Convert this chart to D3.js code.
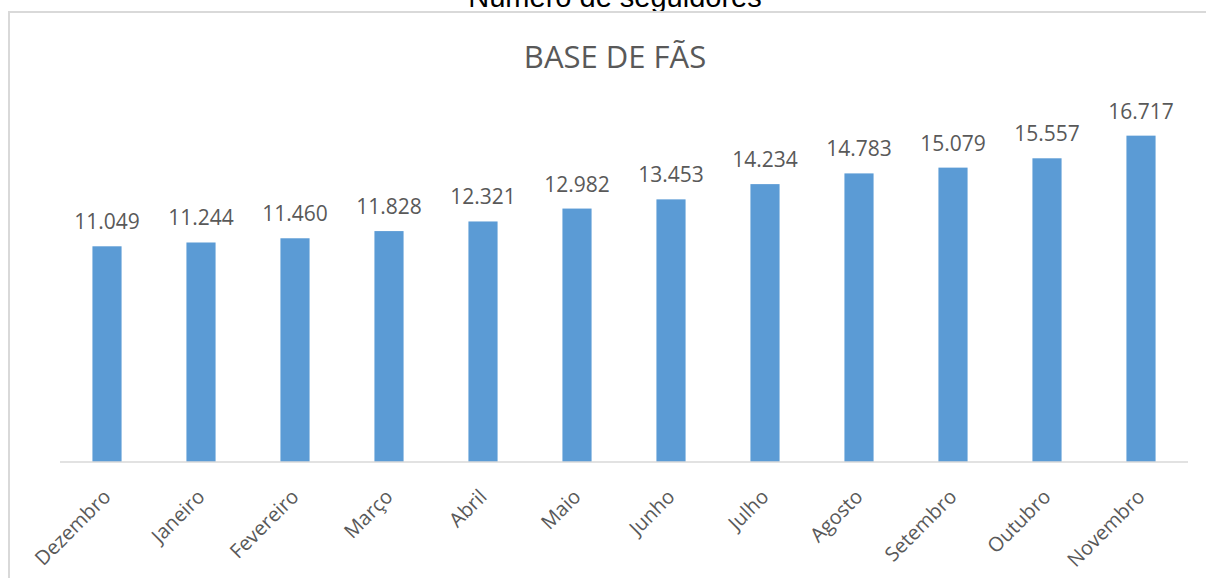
<!DOCTYPE html>
<html>
<head>
<meta charset="utf-8">
<script src="https://cdn.jsdelivr.net/npm/d3@7"></script>
<style>
  html, body { margin: 0; padding: 0; background: #ffffff; }
  svg { display: block; }
</style>
</head>
<body>
<svg id="chart" width="1206" height="578"></svg>
<script>
// Monthly follower counts (fan base)
const months = ["Dezembro", "Janeiro", "Fevereiro", "Março", "Abril", "Maio",
                "Junho", "Julho", "Agosto", "Setembro", "Outubro", "Novembro"];
const followers = [11049, 11244, 11460, 11828, 12321, 12982,
                   13453, 14234, 14783, 15079, 15557, 16717];
const valueLabels = ["11.049", "11.244", "11.460", "11.828", "12.321", "12.982",
                     "13.453", "14.234", "14.783", "15.079", "15.557", "16.717"];
const yDomain = [0, 18000];

const W = 1206, H = 578;
const svg = d3.select("#chart");

// Outer heading
svg.append("text")
  .attr("x", 615).attr("y", 7)
  .attr("text-anchor", "middle")
  .attr("font-family", "'Liberation Sans', Arial, sans-serif")
  .attr("font-size", 29)
  .attr("fill", "#000")
  .text("Número de seguidores");

// Chart frame
svg.append("rect")
  .attr("x", 9).attr("y", 12)
  .attr("width", W + 20).attr("height", H + 20)
  .attr("fill", "none")
  .attr("stroke", "#d9d9d9")
  .attr("stroke-width", 2);

// Chart title
svg.append("text")
  .attr("x", 615).attr("y", 68)
  .attr("text-anchor", "middle")
  .attr("font-family", "'Open Sans', sans-serif")
  .attr("font-size", 31)
  .attr("fill", "#595959")
  .text("BASE DE FÃS");

const x = d3.scaleBand().domain(months).range([60, 1188]).paddingInner(0.69).paddingOuter(0.345);
const y = d3.scaleLinear().domain(yDomain).range([462, 110.6]);

const data = months.map((m, i) => ({ month: m, value: followers[i], label: valueLabels[i] }));

// Bars
svg.append("g").selectAll("rect")
  .data(data)
  .join("rect")
  .attr("x", d => x(d.month))
  .attr("y", d => y(d.value))
  .attr("width", x.bandwidth())
  .attr("height", d => y(0) - y(d.value))
  .attr("fill", "#5b9bd5");

// Value labels
svg.append("g").selectAll("text")
  .data(data)
  .join("text")
  .attr("x", d => x(d.month) + x.bandwidth() / 2)
  .attr("y", d => y(d.value) - 17)
  .attr("text-anchor", "middle")
  .attr("font-family", "'Open Sans', sans-serif")
  .attr("font-size", 21)
  .attr("fill", "#595959")
  .text(d => d.label);

// Category axis
const xAxis = d3.axisBottom(x).tickSize(0).tickPadding(0);
const gx = svg.append("g")
  .attr("transform", `translate(0,${y(0)})`)
  .call(xAxis);
gx.select(".domain").attr("stroke", "#d9d9d9").attr("stroke-width", 1.5)
  .attr("d", `M60,0H1188`);
gx.selectAll(".tick text")
  .attr("font-family", "'Open Sans', sans-serif")
  .attr("font-size", 20)
  .attr("fill", "#595959")
  .attr("text-anchor", "end")
  .attr("dy", "0.71em")
  .attr("transform", "translate(-5,26) rotate(-45)");
</script>
</body>
</html>
